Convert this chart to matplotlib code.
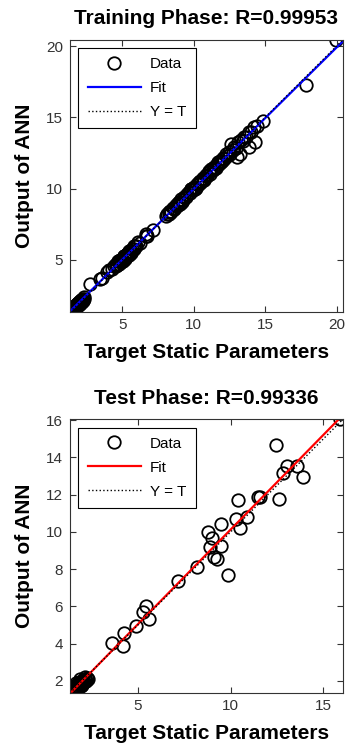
import numpy as np
import matplotlib

matplotlib.use('Agg')
import matplotlib.pyplot as plt

plt.rcParams['font.family'] = ['Liberation Sans', 'DejaVu Sans']

# training set: target vs ANN output
train_target = [
    1.36, 1.40, 1.45, 1.48, 1.50, 1.52, 1.55, 1.58, 1.60, 1.62, 1.65, 1.68, 1.70, 1.72, 1.75,
    1.78, 1.80, 1.83, 1.85, 1.88, 1.90, 1.93, 1.95, 1.98, 2.00, 2.05, 2.10, 2.15, 2.20, 2.25,
    2.30, 2.35, 1.55, 1.70, 1.85, 2.00, 2.15, 1.50, 1.65, 1.80, 1.95, 2.10, 2.25,
    2.75, 3.45, 3.60, 3.95, 4.10, 4.30,
    4.45, 4.55, 4.60, 4.70, 4.75, 4.85, 4.90, 5.00, 5.05, 5.10, 5.20, 5.25, 5.30, 5.40, 5.45,
    5.55, 5.60, 5.70, 5.80, 5.90, 6.00, 6.10, 6.25, 4.80, 5.15, 5.50, 5.85, 4.65, 5.35, 5.65,
    6.65, 6.70, 6.75, 7.15,
    8.05, 8.15, 8.25, 8.35, 8.45, 8.55, 8.65, 8.75, 8.85, 8.95, 9.05, 9.15, 9.25, 9.35, 9.45, 9.55,
    8.30, 8.60, 8.90, 9.20,
    9.65, 9.75, 9.85, 9.95, 10.05, 10.15, 10.25, 10.35, 10.45, 10.55, 10.65, 10.75, 10.85, 10.95,
    9.80, 10.10, 10.40, 10.70,
    11.05, 11.15, 11.25, 11.35, 11.45, 11.55, 11.65, 11.75, 11.85, 11.95, 12.05, 12.15, 12.25,
    12.35, 12.45, 11.10, 11.40, 11.70, 12.00,
    12.55, 12.65, 12.75, 12.85, 12.95, 13.05, 13.10, 13.25, 13.30, 13.45, 13.55, 13.70, 13.85,
    13.90, 14.05, 14.20, 14.30, 14.45,
    14.85, 17.90, 19.95,
]
train_output = [
    1.35, 1.45, 1.50, 1.42, 1.45, 1.58, 1.52, 1.62, 1.57, 1.68, 1.60, 1.72, 1.66, 1.78, 1.70,
    1.82, 1.76, 1.88, 1.80, 1.92, 1.86, 1.97, 1.90, 2.03, 1.96, 2.08, 2.05, 2.20, 2.16, 2.28,
    2.25, 2.38, 1.62, 1.76, 1.92, 2.06, 2.22, 1.40, 1.55, 1.70, 1.85, 2.00, 2.15,
    3.35, 3.70, 3.75, 4.15, 4.30, 4.40,
    4.60, 4.75, 4.55, 4.90, 4.70, 5.00, 4.85, 5.10, 4.95, 5.25, 5.05, 5.35, 5.20, 5.50, 5.35,
    5.65, 5.50, 5.80, 5.75, 6.00, 5.95, 6.25, 6.20, 4.95, 5.30, 5.60, 5.95, 4.65, 5.45, 5.55,
    6.70, 6.85, 6.65, 7.10,
    8.10, 8.25, 8.20, 8.45, 8.40, 8.65, 8.55, 8.85, 8.80, 9.05, 8.95, 9.25, 9.20, 9.45, 9.40, 9.60,
    8.40, 8.55, 9.00, 9.10,
    9.75, 9.70, 9.95, 9.90, 10.15, 10.05, 10.35, 10.30, 10.55, 10.45, 10.75, 10.70, 10.95, 10.90,
    9.95, 10.00, 10.50, 10.60,
    11.15, 11.05, 11.35, 11.30, 11.55, 11.45, 11.75, 11.70, 11.95, 11.90, 12.15, 12.05, 12.40,
    12.30, 12.60, 11.25, 11.35, 11.85, 11.95,
    12.45, 13.15, 12.70, 12.95, 12.85, 12.25, 13.25, 12.45, 13.40, 13.35, 13.65, 13.60, 12.90,
    14.00, 13.95, 14.30, 13.30, 14.40,
    14.75, 17.25, 20.45,
]

# test set
test_target = [
    1.40, 1.50, 1.55, 1.60, 1.65, 1.70, 1.75, 1.78, 1.82, 1.88, 1.92, 1.97, 2.00, 2.05, 2.10,
    2.15, 2.20, 2.28, 2.32, 1.58, 1.72, 1.85, 1.95, 2.08, 2.18, 1.62, 1.80, 1.68, 1.90, 2.02,
    3.60, 4.20, 4.25, 4.90, 5.27, 5.43, 5.60, 7.15, 8.17, 8.76, 8.90, 9.00, 9.10, 9.25, 9.46,
    9.50, 9.84, 10.30, 10.40, 10.50, 10.90, 11.45, 11.56, 12.42, 12.60, 12.80, 13.06, 13.60,
    13.90, 15.90,
]
test_output = [
    1.35, 1.55, 1.45, 1.65, 1.55, 1.75, 1.62, 1.85, 1.70, 1.90, 1.80, 1.98, 1.88, 2.05, 1.95,
    2.12, 2.02, 2.18, 2.10, 1.72, 1.60, 1.95, 1.75, 1.92, 2.22, 1.50, 1.68, 1.88, 2.08, 1.78,
    4.05, 3.85, 4.60, 4.97, 5.68, 6.00, 5.35, 7.35, 8.10, 10.00, 9.20, 9.70, 8.65, 8.55, 9.25,
    10.40, 7.70, 10.70, 11.70, 10.20, 10.80, 11.85, 11.90, 14.65, 11.75, 13.15, 13.55, 13.55,
    12.95, 16.05,
]

panels = [
    ('Training Phase: R=0.99953', train_target, train_output, '#0000ff', [5, 10, 15, 20], [5, 10, 15, 20]),
    ('Test Phase: R=0.99336', test_target, test_output, '#ff0000', [5, 10, 15], list(range(2, 17, 2))),
]

fig = plt.figure(figsize=(3.45, 7.44), dpi=100)
positions = [[0.203, 0.5806, 0.791, 0.366], [0.203, 0.0685, 0.791, 0.368]]
edge = '#333333'

for pos, (title, t, o, color, xt, yt) in zip(positions, panels):
    ax = fig.add_axes(pos)
    t = np.array(t)
    o = np.array(o)
    lo = min(t.min(), o.min())
    hi = max(t.max(), o.max())

    slope, icpt = np.polyfit(t, o, 1)
    xs = np.array([lo, hi])

    ax.plot(t, o, 'o', mfc='none', mec='black', ms=9, mew=1.3, label='Data')
    ax.plot(xs, slope * xs + icpt, '-', color=color, lw=1.6, label='Fit')
    ax.plot(xs, xs, ':', color='black', lw=1.0, label='Y = T')

    ax.set_xlim(lo, hi)
    ax.set_ylim(lo, hi)
    ax.set_xticks(xt)
    ax.set_yticks(yt)
    ax.tick_params(direction='in', length=4, width=0.8, top=True, right=True,
                   labelsize=11, colors=edge)
    ax.tick_params(axis='x', pad=4)
    ax.tick_params(axis='y', pad=5)
    for s in ax.spines.values():
        s.set_color(edge)
        s.set_linewidth(0.8)

    ax.set_title(title, fontsize=15, fontweight='bold', pad=11)
    ax.set_xlabel('Target Static Parameters', fontsize=15, fontweight='bold', labelpad=8)
    ax.set_ylabel('Output of ANN', fontsize=15, fontweight='bold', labelpad=9)

    leg = ax.legend(loc='upper left', numpoints=1, fontsize=11, handlelength=3.5,
                    handletextpad=0.6, borderpad=0.6, borderaxespad=0.55,
                    labelspacing=0.65, fancybox=False, framealpha=1)
    leg.get_frame().set_edgecolor('black')
    leg.get_frame().set_linewidth(0.8)

fig.savefig('out.png', dpi=100)
